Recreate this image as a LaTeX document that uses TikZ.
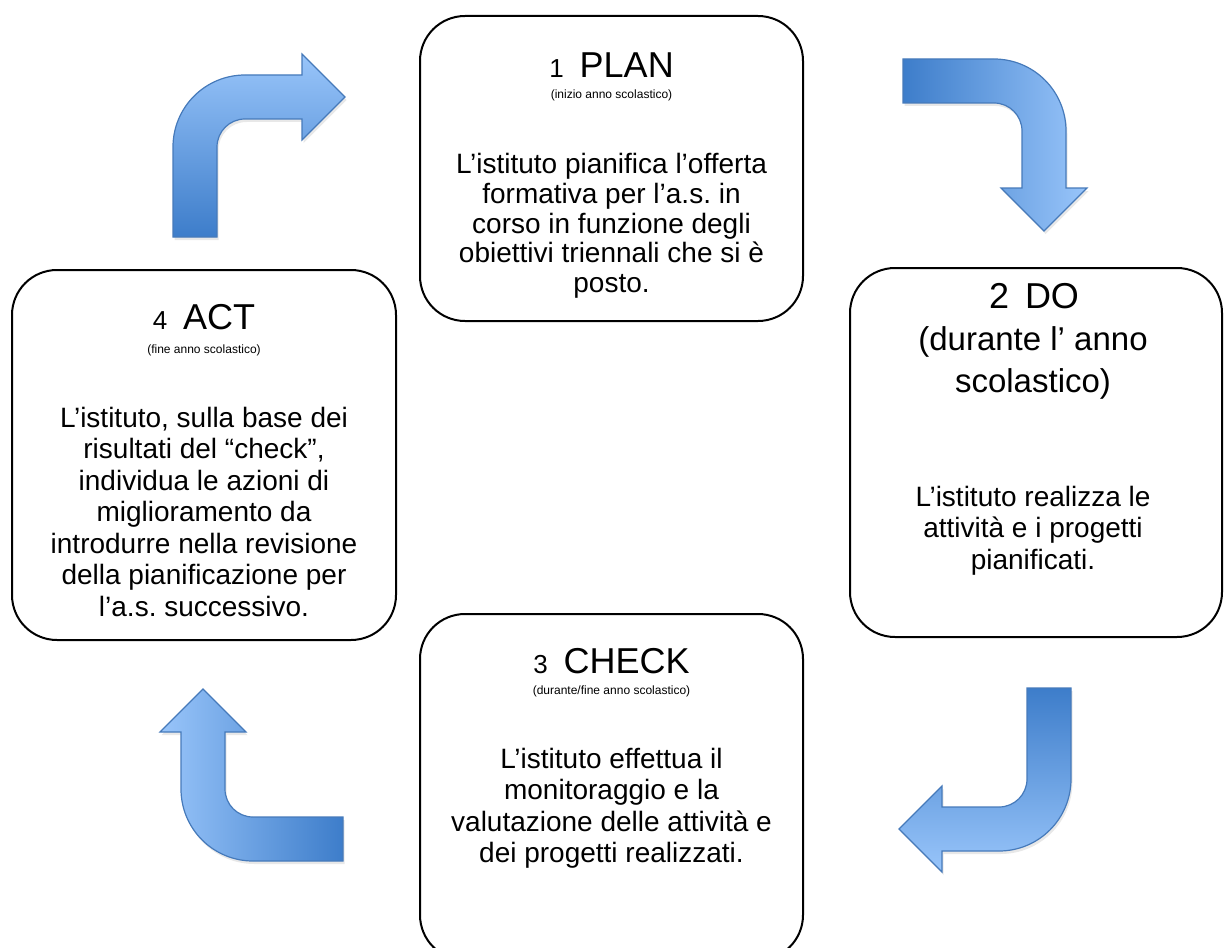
\documentclass[tikz,border=0pt]{standalone}
\usepackage{fontspec}
\setmainfont{Liberation Sans}
\usetikzlibrary{shadows}
\frenchspacing
\definecolor{adark}{RGB}{61,125,202}
\definecolor{alight}{RGB}{153,197,250}
\definecolor{aedge}{RGB}{70,122,186}
\tikzset{
  box/.style={draw=black, line width=2pt, rounded corners=45pt, fill=white, inner sep=0pt},
  ttl/.style={anchor=base, inner sep=0pt, font=\fontsize{36}{40}\selectfont},
  subt/.style={anchor=base, inner sep=0pt, font=\fontsize{12}{14}\selectfont},
  bodytext/.style={anchor=north, inner sep=0pt, align=center, font=\fontsize{28}{31.5}\selectfont\frenchspacing},
  plantext/.style={anchor=north, inner sep=0pt, align=center, font=\fontsize{28}{29.8}\selectfont\frenchspacing},
  dosub/.style={anchor=north, inner sep=0pt, align=center, font=\fontsize{33}{42}\selectfont},
  bentarrow/.style={draw=aedge, line width=1.2pt, line join=miter,
    drop shadow={opacity=0.18, shadow xshift=1.5pt, shadow yshift=-3pt}}
}
\begin{document}
\begin{tikzpicture}[x=1pt,y=-1pt]
\useasboundingbox (0,0) rectangle (1225,947);

% boxes
\node[box, minimum width=383pt, minimum height=305pt] (plan) at (611.5,168.5) {};
\node[box, minimum width=372pt, minimum height=369pt] (do) at (1036,452.5) {};
\node[box, minimum width=384pt, minimum height=370pt] (act) at (204,455) {};
\node[box, minimum width=383pt, minimum height=346pt] (check) at (611.5,787) {};

% PLAN
\node[ttl] (plant) at (611.5,78) {{\fontsize{26}{30}\selectfont 1}\hspace{16pt}PLAN};
\node[subt] (plans) at (611.5,99) {(inizio anno scolastico)};
\node[plantext] (planb) at (611.5,152.5) {\strut L’istituto pianifica l’offerta\\formativa per l’a.s. in\\corso in funzione degli\\obiettivi triennali che si è\\posto.};

% DO
\node[ttl] (dot) at (1034,308) {2\hspace{16pt}DO};
\node[dosub] (dos) at (1033,320.6) {\strut(durante l’ anno\\scolastico)};
\node[bodytext] (dob) at (1033,484) {\strut L’istituto realizza le\\attività e i progetti\\pianificati.};

% ACT
\node[ttl] (actt) at (204,329) {{\fontsize{26}{30}\selectfont 4}\hspace{16pt}ACT};
\node[subt] (acts) at (204,353) {(fine anno scolastico)};
\node[bodytext] (actb) at (204,405) {\strut L’istituto, sulla base dei\\risultati del “check”,\\individua le azioni di\\miglioramento da\\introdurre nella revisione\\della pianificazione per\\l’a.s. successivo.};

% CHECK
\node[ttl] (checkt) at (611.5,673) {{\fontsize{26}{30}\selectfont 3}\hspace{16pt}CHECK};
\node[subt] (checks) at (611.5,694) {(durante/fine anno scolastico)};
\node[bodytext] (checkb) at (611.5,746) {\strut L’istituto effettua il\\monitoraggio e la\\valutazione delle attività e\\dei progetti realizzati.};

% arrows
% top-left: up then right (ACT -> PLAN)
\path[bentarrow, bottom color=adark, top color=alight]
  (173,237) -- (173,147) .. controls (173,107.2) and (205.2,75) .. (245,75)
  -- (302,75) -- (302,54) -- (345,97) -- (302,140) -- (302,119) -- (245,119)
  .. controls (229.5,119) and (217,131.5) .. (217,147) -- (217,237) -- cycle;
% top-right: right then down (PLAN -> DO)
\path[bentarrow, left color=adark, right color=alight]
  (903,59) -- (994,59) .. controls (1033.8,59) and (1066,91.2) .. (1066,131)
  -- (1066,188) -- (1087,188) -- (1044,231) -- (1001,188) -- (1022,188) -- (1022,131)
  .. controls (1022,115.5) and (1009.5,103) .. (994,103) -- (903,103) -- cycle;
% bottom-right: down then left (DO -> CHECK)
\path[bentarrow, top color=adark, bottom color=alight]
  (1027,688) -- (1071,688) -- (1071,779) .. controls (1071,818.8) and (1038.8,851) .. (999,851)
  -- (942,851) -- (942,872) -- (899,829) -- (942,786) -- (942,807) -- (999,807)
  .. controls (1014.5,807) and (1027,794.5) .. (1027,779) -- cycle;
% bottom-left: left then up (CHECK -> ACT)
\path[bentarrow, left color=alight, right color=adark]
  (343,817) -- (253,817) .. controls (237.5,817) and (225,804.5) .. (225,789)
  -- (225,732) -- (246,732) -- (203,689) -- (160,732) -- (181,732) -- (181,789)
  .. controls (181,828.8) and (213.2,861) .. (253,861) -- (343,861) -- cycle;
\end{tikzpicture}
\end{document}
